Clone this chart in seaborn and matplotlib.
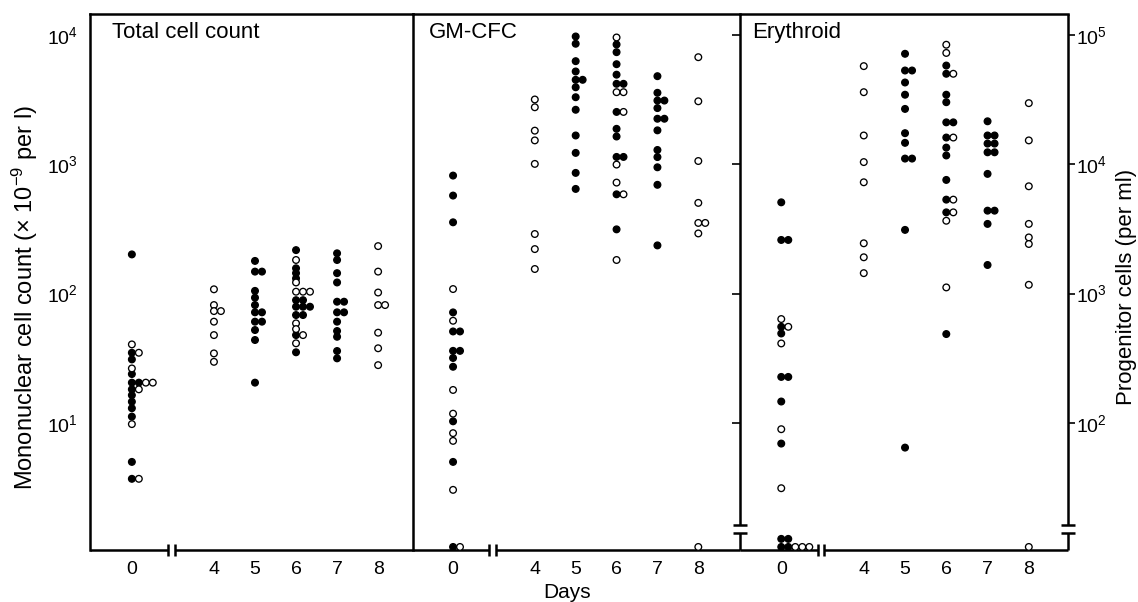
import matplotlib
matplotlib.use("Agg")
import matplotlib.pyplot as plt
import matplotlib.ticker as mticker
import pandas as pd
import seaborn as sns

# Values.
# Total cell count: 10^9 per l (left axis); GM-CFC / Erythroid: cells per ml (right axis).
# Filled and open circles are the two patient groups.
# 11.0 on the progenitor panels = not detected (plotted under the axis break).

DAYS = [0, 4, 5, 6, 7, 8]
DAY_LABELS = ["0", "4", "5", "6", "7", "8"]

TOTAL_FILLED = {
    0: [201, 34.9, 31.0, 23.9, 20.5, 20.5, 18.2, 16.4, 14.6, 13.0, 11.2, 5.0, 3.7],
    5: [179, 148, 148, 105, 93, 81.6, 71.7, 71.7, 60.7, 60.7, 52.3, 43.8, 20.5],
    6: [217, 157, 144, 131, 89, 89, 79.2, 79.2, 79.2, 68.3, 68.3, 47.8, 35.2],
    7: [205, 182, 144, 122, 86.6, 86.6, 71.7, 71.7, 60.7, 51.4, 46.4, 36.0, 31.6],
}
TOTAL_OPEN = {
    0: [40.5, 34.9, 26.4, 20.5, 20.5, 18.2, 9.8, 3.7],
    4: [108, 81.6, 73.3, 73.3, 60.7, 47.8, 34.5, 29.7],
    6: [182, 122, 103.5, 103.5, 103.5, 58.9, 53.2, 47.8, 41.3],
    8: [233, 148, 102, 81.6, 81.6, 49.9, 37.8, 28.0],
}

GM_FILLED = {
    0: [8180, 5730, 3560, 716, 510, 510, 361, 361, 318, 272, 103, 50, 11.0],
    5: [97300, 85500, 62700, 52200, 45000, 45000, 39400, 33000, 26400, 16700, 12250, 8580, 6450],
    6: [84400, 73600, 59400, 49300, 41900, 41900, 25400, 18800, 16400, 11400, 11400, 5860, 3140],
    7: [48000, 35700, 31100, 31100, 27200, 22500, 22500, 18300, 12900, 11370, 9480, 6940, 2360],
}
GM_OPEN = {
    0: [1085, 617, 180, 118, 83.4, 72.7, 30.4, 11.0],
    4: [31700, 27600, 18200, 15300, 10070, 2890, 2210, 1550],
    6: [95600, 36100, 36100, 25400, 9950, 7220, 5860, 1820],
    8: [67300, 30700, 10600, 5030, 3520, 3520, 2920, 11.0],
}

ERY_FILLED = {
    0: [5080, 2600, 2600, 554, 492, 227, 227, 146.5, 69.3, 12.7, 12.7, 11.0, 11.0],
    5: [71500, 53100, 53100, 42900, 34500, 26800, 17400, 14650, 11070, 11070, 3110, 64.5],
    6: [58000, 50100, 34500, 30200, 21100, 21100, 16100, 13460, 11700, 7570, 5330, 4250, 487],
    7: [21500, 16700, 16700, 14460, 14460, 12380, 12380, 8430, 4380, 4380, 3460, 1665],
}
ERY_OPEN = {
    0: [636, 554, 412, 89.5, 31.3, 11.0, 11.0, 11.0],
    4: [57400, 36100, 16700, 10400, 7260, 2450, 1910, 1440],
    6: [84000, 72600, 50100, 16100, 5330, 4250, 3660, 1117],
    8: [29700, 15300, 6760, 3460, 2720, 2420, 1170, 11.0],
}

# day 0 sits left of an axis break, the later days on their own scale
DAY_POS = {0: 2, 4: 4, 5: 5, 6: 6, 7: 7, 8: 8}
STEP = 0.17  # side-by-side shift for tied values

W, H = 1138, 602
TOP, BOT = 14, 550
LW = 1.8

sns.set_style("white")
plt.rcParams["font.family"] = ["Liberation Sans", "DejaVu Sans"]
plt.rcParams["mathtext.fontset"] = "custom"
plt.rcParams["mathtext.rm"] = "Liberation Sans"
plt.rcParams["mathtext.default"] = "regular"
for key in ("text.color", "axes.labelcolor", "xtick.color", "ytick.color", "axes.edgecolor"):
    plt.rcParams[key] = "black"


def build(filled, opened):
    rows = []
    for group, d in (("filled", filled), ("open", opened)):
        for day, vals in d.items():
            for v in vals:
                rows.append({"day": day, "value": v, "group": group})
    df = pd.DataFrame(rows)
    df["x"] = df["day"].map(DAY_POS) + df.groupby(["day", "value"]).cumcount() * STEP
    return df


def rect(x0, x1):
    return [x0 / W, 1 - BOT / H, (x1 - x0) / W, (BOT - TOP) / H]


def draw_bottom(ax, xmin, xmax):
    tr = ax.get_xaxis_transform()
    kw = dict(color="black", lw=LW, transform=tr, clip_on=False, solid_capstyle="butt")
    ax.plot([xmin, 2.88], [0, 0], **kw)
    ax.plot([3.04, xmax], [0, 0], **kw)
    for xb in (2.88, 3.04):
        ax.plot([xb, xb], [-0.012, 0.012], **kw)


def draw_right_break(ax):
    kw = dict(color="black", lw=LW, transform=ax.transAxes, clip_on=False, solid_capstyle="butt")
    lo, hi = 0.0317, 0.0466
    ax.plot([1, 1], [0, lo], **kw)
    ax.plot([1, 1], [hi, 1], **kw)
    for yb in (lo, hi):
        ax.plot([1 - 0.02, 1 + 0.02], [yb, yb], **kw)


panels = [
    ("Total cell count", build(TOTAL_FILLED, TOTAL_OPEN), (90, 413), (0.98, 8.85), (1.042, 14520), 0.068),
    ("GM-CFC", build(GM_FILLED, GM_OPEN), (413, 740), (1.02, 9.02), (10.42, 145200), 0.049),
    ("Erythroid", build(ERY_FILLED, ERY_OPEN), (740, 1068), (1.0, 8.95), (10.42, 145200), 0.037),
]

fig = plt.figure(figsize=(W / 100, H / 100), dpi=100)
axes = []
for i, (title, df, (x0, x1), xlim, ylim, tx) in enumerate(panels):
    ax = fig.add_axes(rect(x0, x1))
    ax.set_facecolor("none")  # keep neighbouring panel borders visible
    axes.append(ax)
    sns.scatterplot(
        data=df, x="x", y="value", hue="group", hue_order=["filled", "open"],
        palette={"filled": "black", "open": "white"}, edgecolor="black",
        linewidth=0.95, s=23, legend=False, ax=ax, zorder=3, clip_on=False,
    )
    ax.set_yscale("log")
    ax.set_xlim(*xlim)
    ax.set_ylim(*ylim)
    ax.set_xlabel("")
    ax.set_ylabel("")
    ax.set_xticks([DAY_POS[d] for d in DAYS])
    ax.set_xticklabels(DAY_LABELS)
    ax.tick_params(axis="x", direction="in", length=5, width=1.2, labelsize=14, pad=8)
    ax.yaxis.set_minor_locator(mticker.NullLocator())
    ax.spines["bottom"].set_visible(False)
    for s in ("top", "left", "right"):
        ax.spines[s].set_linewidth(LW)
    draw_bottom(ax, *xlim)
    ax.text(tx, 0.985, title, transform=ax.transAxes, ha="left", va="top", fontsize=16)

ax_tot, ax_gm, ax_ery = axes

# left panel: decade ticks outside on the left
ax_tot.yaxis.set_major_locator(mticker.LogLocator(base=10, numticks=10))
ax_tot.tick_params(axis="y", direction="out", length=5, width=1.2, labelsize=14, pad=4)

# middle panel: ticks on its right edge, pointing inwards, with the break
ax_gm.spines["left"].set_visible(False)
ax_gm.spines["right"].set_visible(False)
ax_gm.yaxis.tick_right()
ax_gm.tick_params(axis="y", direction="in", length=6, width=1.2, labelright=False)
draw_right_break(ax_gm)

# right panel: progenitor axis on the right
ax_ery.spines["left"].set_visible(False)
ax_ery.spines["right"].set_visible(False)
ax_ery.yaxis.tick_right()
ax_ery.tick_params(axis="y", direction="out", length=5, width=1.2, labelsize=14, pad=1)
draw_right_break(ax_ery)

fig.text(0.022, 0.505, r"Mononuclear cell count ($\times$ 10$^{-9}$ per l)",
         rotation=90, ha="center", va="center", fontsize=17)
fig.text(0.990, 0.523, "Progenitor cells (per ml)",
         rotation=90, ha="center", va="center", fontsize=16)
fig.text(567 / W, 1 - 583 / H, "Days", ha="center", va="top", fontsize=15)

fig.savefig("out.png", dpi=100)
